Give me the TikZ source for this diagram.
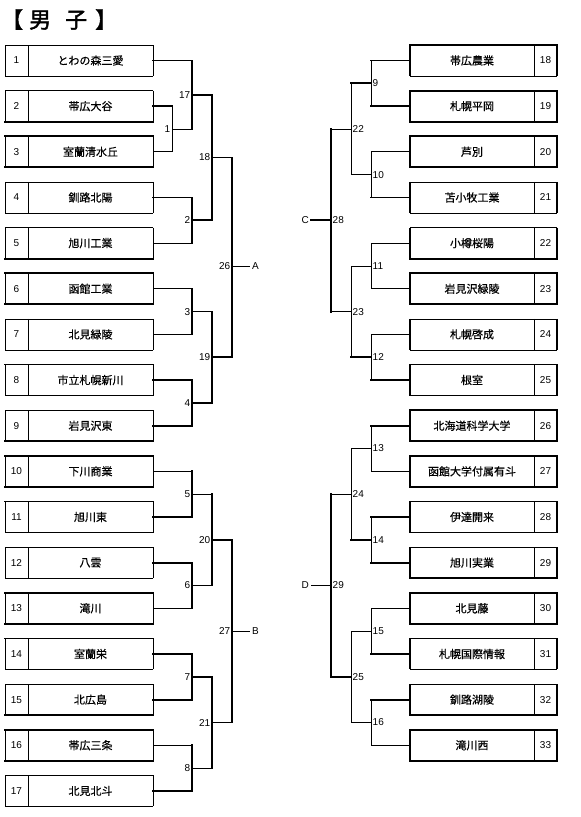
\documentclass[tikz,border=0pt]{standalone}
\usepackage{fontspec}
\setmainfont{Liberation Sans}
\newfontfamily\jp{Noto Sans CJK JP}[FakeBold=0.5]
\newfontfamily\jpt{Noto Sans CJK JP}[FakeBold=2]
\newcommand\LeftTeam[4]{%
  \pgfmathsetmacro\yc{60.5+(#1-1)*45.65}
  \node[numcell] (n#1) at (16.5,\yc) {#1};
  \node[namecell,minimum width=125pt] (t#1) at (90.5,\yc) {#2};
  \draw[thn] (n#1.north west) -- (n#1.south west) (n#1.north east) -- (n#1.south east) (t#1.north east) -- (t#1.south east);
  \draw[#3] (n#1.north west) -- (t#1.north east);
  \draw[#4] (n#1.south west) -- (t#1.south east);
}
\newcommand\RightTeam[4]{%
  \pgfmathsetmacro\yc{60.5+(#1-18)*45.65}
  \node[namecell,minimum width=124pt] (t#1) at (472,\yc) {#2};
  \node[numcell] (n#1) at (545.5,\yc) {#1};
  \draw[thn] (t#1.north east) -- (t#1.south east);
  \draw[line width=1.3pt] (t#1.north west) -- (t#1.south west);
  \draw[line width=1.8pt] (n#1.north east) -- (n#1.south east);
  \draw[#3] (t#1.north west) -- (n#1.north east);
  \draw[#4] (t#1.south west) -- (n#1.south east);
}
\newcommand\Match[6]{%
  \draw[#4] (#2) -- (#2 -| #1);
  \draw[#5] (#3) -- (#3 -| #1);
  \draw[#6] (#2 -| #1) -- (#3 -| #1);
}
\begin{document}
\begin{tikzpicture}[x=1pt,y=-1pt,
  thk/.style={line width=1.8pt,line cap=rect},
  thn/.style={line width=0.8pt},
  namecell/.style={inner sep=0pt,outer sep=0pt,minimum height=31pt,font=\jp\fontsize{11}{13}\selectfont},
  numcell/.style={inner sep=0pt,outer sep=0pt,minimum height=31pt,minimum width=23pt,font=\fontsize{10}{12}\selectfont},
  mlab/.style={inner sep=0pt,font=\fontsize{10}{12}\selectfont}]
\useasboundingbox (0,0) rectangle (581,817);
\node[anchor=west,inner sep=0pt,font=\jpt\fontsize{22}{24}\selectfont] (title) at (1,19.5) {【\hspace{6pt}男\hspace{14pt}子\hspace{8pt}】};

% left teams
\LeftTeam{1}{とわの森三愛}{thn}{thn}
\LeftTeam{2}{帯広大谷}{thn}{thk}
\LeftTeam{3}{室蘭清水丘}{thk}{thk}
\LeftTeam{4}{釧路北陽}{thn}{thn}
\LeftTeam{5}{旭川工業}{thn}{thk}
\LeftTeam{6}{函館工業}{thk}{thk}
\LeftTeam{7}{北見緑陵}{thn}{thn}
\LeftTeam{8}{市立札幌新川}{thk}{thn}
\LeftTeam{9}{岩見沢東}{thn}{thk}
\LeftTeam{10}{下川商業}{thk}{thk}
\LeftTeam{11}{旭川東}{thk}{thn}
\LeftTeam{12}{八雲}{thn}{thn}
\LeftTeam{13}{滝川}{thk}{thk}
\LeftTeam{14}{室蘭栄}{thk}{thn}
\LeftTeam{15}{北広島}{thn}{thk}
\LeftTeam{16}{帯広三条}{thk}{thk}
\LeftTeam{17}{北見北斗}{thn}{thn}

% right teams
\RightTeam{18}{帯広農業}{thk}{thn}
\RightTeam{19}{札幌平岡}{thk}{thk}
\RightTeam{20}{芦別}{thk}{thk}
\RightTeam{21}{苫小牧工業}{thn}{thn}
\RightTeam{22}{小樽桜陽}{thn}{thk}
\RightTeam{23}{岩見沢緑陵}{thk}{thk}
\RightTeam{24}{札幌啓成}{thn}{thn}
\RightTeam{25}{根室}{thk}{thk}
\RightTeam{26}{北海道科学大学}{thk}{thk}
\RightTeam{27}{函館大学付属有斗}{thk}{thk}
\RightTeam{28}{伊達開来}{thk}{thn}
\RightTeam{29}{旭川実業}{thn}{thk}
\RightTeam{30}{北見藤}{thk}{thk}
\RightTeam{31}{札幌国際情報}{thn}{thn}
\RightTeam{32}{釧路湖陵}{thn}{thk}
\RightTeam{33}{滝川西}{thk}{thk}

% match points, left
\coordinate (m1) at (172,129);
\coordinate (m17) at (192,94.8);
\coordinate (m2) at (192,220.3);
\coordinate (m18) at (212,157.5);
\coordinate (m3) at (192,311.6);
\coordinate (m4) at (192,402.9);
\coordinate (m19) at (212,357.3);
\coordinate (m26) at (232,266);
\coordinate (m5) at (192,494.2);
\coordinate (m6) at (192,585.5);
\coordinate (m20) at (212,539.9);
\coordinate (m7) at (192,676.8);
\coordinate (m8) at (192,768.1);
\coordinate (m21) at (212,722.5);
\coordinate (m27) at (232,631.2);
\coordinate (ea) at (250,266);
\coordinate (eb) at (250,631.2);
% match points, right
\coordinate (m9) at (371,83.3);
\coordinate (m10) at (371,174.7);
\coordinate (m22) at (351,129);
\coordinate (m11) at (371,266);
\coordinate (m12) at (371,357.3);
\coordinate (m23) at (351,311.6);
\coordinate (m28) at (331,220.3);
\coordinate (m13) at (371,448.5);
\coordinate (m14) at (371,539.9);
\coordinate (m24) at (351,494.2);
\coordinate (m15) at (371,631.2);
\coordinate (m16) at (371,722.5);
\coordinate (m25) at (351,676.8);
\coordinate (m29) at (331,585.5);
\coordinate (ec) at (311,220.3);
\coordinate (ed) at (311,585.5);

% left bracket
\Match{m1}{t2.east}{t3.east}{thk}{thn}{thn}
\Match{m17}{t1.east}{m1}{thk}{thn}{thk}
\Match{m2}{t4.east}{t5.east}{thk}{thn}{thk}
\Match{m18}{m17}{m2}{thk}{thk}{thk}
\Match{m3}{t6.east}{t7.east}{thn}{thn}{thk}
\Match{m4}{t8.east}{t9.east}{thk}{thk}{thk}
\Match{m19}{m3}{m4}{thn}{thk}{thk}
\Match{m26}{m18}{m19}{thn}{thk}{thk}
\Match{m5}{t10.east}{t11.east}{thn}{thk}{thk}
\Match{m6}{t12.east}{t13.east}{thk}{thn}{thk}
\Match{m20}{m5}{m6}{thn}{thn}{thk}
\Match{m7}{t14.east}{t15.east}{thk}{thk}{thk}
\Match{m8}{t16.east}{t17.east}{thn}{thk}{thk}
\Match{m21}{m7}{m8}{thk}{thn}{thk}
\Match{m27}{m20}{m21}{thk}{thn}{thk}
\draw[thn] (m26) -- (ea);
\draw[thn] (m27) -- (eb);

% right bracket
\Match{m9}{t18.west}{t19.west}{thk}{thk}{thn}
\Match{m10}{t20.west}{t21.west}{thn}{thk}{thn}
\Match{m22}{m9}{m10}{thk}{thn}{thn}
\Match{m11}{t22.west}{t23.west}{thn}{thn}{thn}
\Match{m12}{t24.west}{t25.west}{thn}{thk}{thn}
\Match{m23}{m11}{m12}{thn}{thk}{thn}
\Match{m28}{m22}{m23}{thn}{thn}{thk}
\Match{m13}{t26.west}{t27.west}{thk}{thn}{thn}
\Match{m14}{t28.west}{t29.west}{thk}{thk}{thn}
\Match{m24}{m13}{m14}{thn}{thk}{thn}
\Match{m15}{t30.west}{t31.west}{thn}{thk}{thn}
\Match{m16}{t32.west}{t33.west}{thk}{thn}{thn}
\Match{m25}{m15}{m16}{thn}{thn}{thn}
\Match{m29}{m24}{m25}{thn}{thk}{thk}
\draw[thk] (m28) -- (ec);
\draw[thn] (m29) -- (ed);

% labels left
\foreach \m in {1,17,2,18,3,4,19,26,5,6,20,7,8,21,27}
  \node[mlab,anchor=east] (l\m) at ([xshift=-1.5pt]m\m) {\m};
\node[mlab,anchor=west] (la) at ([xshift=2pt]ea) {A};
\node[mlab,anchor=west] (lb) at ([xshift=2pt]eb) {B};
% labels right
\foreach \m in {9,10,22,11,12,23,28,13,14,24,15,16,25,29}
  \node[mlab,anchor=west] (l\m) at ([xshift=1.5pt]m\m) {\m};
\node[mlab,anchor=east] (lc) at ([xshift=-2pt]ec) {C};
\node[mlab,anchor=east] (ld) at ([xshift=-2pt]ed) {D};
\end{tikzpicture}
\end{document}
